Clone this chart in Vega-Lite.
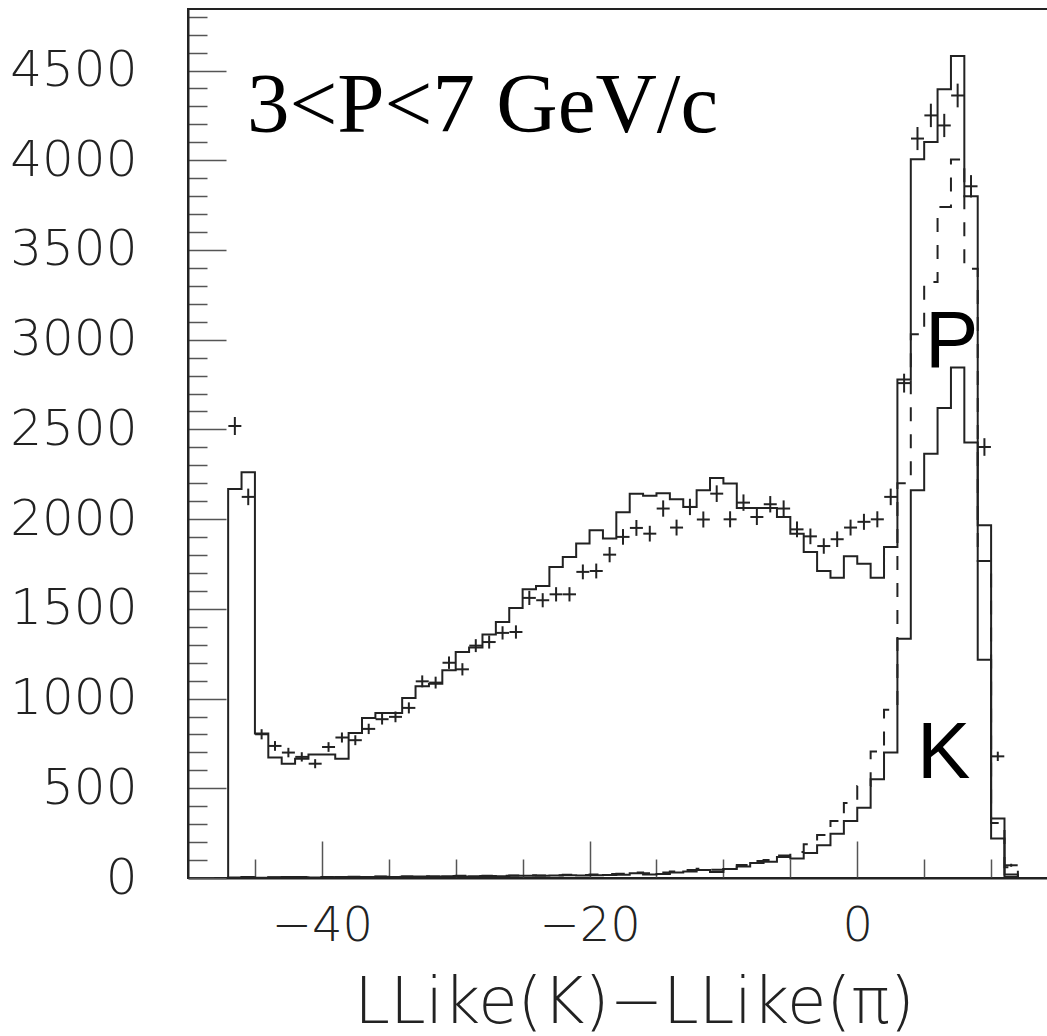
{
  "$schema": "https://vega.github.io/schema/vega-lite/v6.json",
  "width": 862,
  "height": 869,
  "autosize": {"type": "none"},
  "padding": {"left": 188, "top": 9, "right": 0, "bottom": 158},
  "background": "white",
  "config": {
    "view": {"stroke": "#222", "strokeWidth": 2},
    "axis": {
      "labelFont": "DejaVu Sans",
      "labelFontWeight": 200,
      "labelColor": "#222",
      "labelOverlap": false,
      "labelBound": false,
      "labelFlush": false,
      "tickColor": "#555",
      "tickWidth": 1.5,
      "domainColor": "#222",
      "domainWidth": 2,
      "grid": false,
      "titleFont": "DejaVu Sans",
      "titleFontWeight": 200,
      "titleColor": "#222"
    }
  },
  "datasets": {
    "hist": [
      {"s": "H1", "lo": -48, "n": 0}, {"s": "H1", "lo": -47, "n": 2168}, {"s": "H1", "lo": -46, "n": 2261}, {"s": "H1", "lo": -45, "n": 805},
      {"s": "H1", "lo": -44, "n": 671}, {"s": "H1", "lo": -43, "n": 637}, {"s": "H1", "lo": -42, "n": 665}, {"s": "H1", "lo": -41, "n": 688},
      {"s": "H1", "lo": -40, "n": 688}, {"s": "H1", "lo": -39, "n": 665}, {"s": "H1", "lo": -38, "n": 808}, {"s": "H1", "lo": -37, "n": 892},
      {"s": "H1", "lo": -36, "n": 920}, {"s": "H1", "lo": -35, "n": 920}, {"s": "H1", "lo": -34, "n": 1003}, {"s": "H1", "lo": -33, "n": 1068},
      {"s": "H1", "lo": -32, "n": 1083}, {"s": "H1", "lo": -31, "n": 1158}, {"s": "H1", "lo": -30, "n": 1260}, {"s": "H1", "lo": -29, "n": 1285},
      {"s": "H1", "lo": -28, "n": 1357}, {"s": "H1", "lo": -27, "n": 1427}, {"s": "H1", "lo": -26, "n": 1505}, {"s": "H1", "lo": -25, "n": 1609},
      {"s": "H1", "lo": -24, "n": 1627}, {"s": "H1", "lo": -23, "n": 1733}, {"s": "H1", "lo": -22, "n": 1789}, {"s": "H1", "lo": -21, "n": 1864},
      {"s": "H1", "lo": -20, "n": 1938}, {"s": "H1", "lo": -19, "n": 1892}, {"s": "H1", "lo": -18, "n": 2038}, {"s": "H1", "lo": -17, "n": 2142},
      {"s": "H1", "lo": -16, "n": 2131}, {"s": "H1", "lo": -15, "n": 2144}, {"s": "H1", "lo": -14, "n": 2111}, {"s": "H1", "lo": -13, "n": 2068},
      {"s": "H1", "lo": -12, "n": 2161}, {"s": "H1", "lo": -11, "n": 2229}, {"s": "H1", "lo": -10, "n": 2198}, {"s": "H1", "lo": -9, "n": 2062},
      {"s": "H1", "lo": -8, "n": 2062}, {"s": "H1", "lo": -7, "n": 2062}, {"s": "H1", "lo": -6, "n": 2012}, {"s": "H1", "lo": -5, "n": 1919},
      {"s": "H1", "lo": -4, "n": 1817}, {"s": "H1", "lo": -3, "n": 1711}, {"s": "H1", "lo": -2, "n": 1674}, {"s": "H1", "lo": -1, "n": 1793},
      {"s": "H1", "lo": 0, "n": 1752}, {"s": "H1", "lo": 1, "n": 1674}, {"s": "H1", "lo": 2, "n": 1845}, {"s": "H1", "lo": 3, "n": 2778},
      {"s": "H1", "lo": 4, "n": 4005}, {"s": "H1", "lo": 5, "n": 4102}, {"s": "H1", "lo": 6, "n": 4396}, {"s": "H1", "lo": 7, "n": 4581},
      {"s": "H1", "lo": 8, "n": 3799}, {"s": "H1", "lo": 9, "n": 1966}, {"s": "H1", "lo": 10, "n": 331}, {"s": "H1", "lo": 11, "n": 19},
      {"s": "H1", "lo": 12, "n": 0}, {"s": "H1", "lo": 14.4, "n": 0},

      {"s": "H2", "lo": -48, "n": 0}, {"s": "H2", "lo": -47, "n": 3}, {"s": "H2", "lo": -46, "n": 4}, {"s": "H2", "lo": -45, "n": 2},
      {"s": "H2", "lo": -44, "n": 3}, {"s": "H2", "lo": -43, "n": 5}, {"s": "H2", "lo": -42, "n": 4}, {"s": "H2", "lo": -41, "n": 3},
      {"s": "H2", "lo": -40, "n": 4}, {"s": "H2", "lo": -39, "n": 6}, {"s": "H2", "lo": -38, "n": 5}, {"s": "H2", "lo": -37, "n": 5},
      {"s": "H2", "lo": -36, "n": 7}, {"s": "H2", "lo": -35, "n": 6}, {"s": "H2", "lo": -34, "n": 8}, {"s": "H2", "lo": -33, "n": 9},
      {"s": "H2", "lo": -32, "n": 8}, {"s": "H2", "lo": -31, "n": 10}, {"s": "H2", "lo": -30, "n": 9}, {"s": "H2", "lo": -29, "n": 10},
      {"s": "H2", "lo": -28, "n": 11}, {"s": "H2", "lo": -27, "n": 10}, {"s": "H2", "lo": -26, "n": 12}, {"s": "H2", "lo": -25, "n": 13},
      {"s": "H2", "lo": -24, "n": 12}, {"s": "H2", "lo": -23, "n": 14}, {"s": "H2", "lo": -22, "n": 15}, {"s": "H2", "lo": -21, "n": 14},
      {"s": "H2", "lo": -20, "n": 16}, {"s": "H2", "lo": -19, "n": 17}, {"s": "H2", "lo": -18, "n": 18}, {"s": "H2", "lo": -17, "n": 26},
      {"s": "H2", "lo": -16, "n": 20}, {"s": "H2", "lo": -15, "n": 22}, {"s": "H2", "lo": -14, "n": 30}, {"s": "H2", "lo": -13, "n": 36},
      {"s": "H2", "lo": -12, "n": 44}, {"s": "H2", "lo": -11, "n": 34}, {"s": "H2", "lo": -10, "n": 50}, {"s": "H2", "lo": -9, "n": 64},
      {"s": "H2", "lo": -8, "n": 84}, {"s": "H2", "lo": -7, "n": 90}, {"s": "H2", "lo": -6, "n": 117}, {"s": "H2", "lo": -5, "n": 108},
      {"s": "H2", "lo": -4, "n": 139}, {"s": "H2", "lo": -3, "n": 182}, {"s": "H2", "lo": -2, "n": 247}, {"s": "H2", "lo": -1, "n": 318},
      {"s": "H2", "lo": 0, "n": 392}, {"s": "H2", "lo": 1, "n": 550}, {"s": "H2", "lo": 2, "n": 699}, {"s": "H2", "lo": 3, "n": 1334},
      {"s": "H2", "lo": 4, "n": 2161}, {"s": "H2", "lo": 5, "n": 2365}, {"s": "H2", "lo": 6, "n": 2620}, {"s": "H2", "lo": 7, "n": 2845},
      {"s": "H2", "lo": 8, "n": 2427}, {"s": "H2", "lo": 9, "n": 1217}, {"s": "H2", "lo": 10, "n": 220}, {"s": "H2", "lo": 11, "n": 6},
      {"s": "H2", "lo": 12, "n": 0}, {"s": "H2", "lo": 14.4, "n": 0},

      {"s": "H3", "lo": -48, "n": 0}, {"s": "H3", "lo": -47, "n": 5}, {"s": "H3", "lo": -46, "n": 6}, {"s": "H3", "lo": -45, "n": 3},
      {"s": "H3", "lo": -44, "n": 4}, {"s": "H3", "lo": -43, "n": 6}, {"s": "H3", "lo": -42, "n": 5}, {"s": "H3", "lo": -41, "n": 4},
      {"s": "H3", "lo": -40, "n": 6}, {"s": "H3", "lo": -39, "n": 5}, {"s": "H3", "lo": -38, "n": 7}, {"s": "H3", "lo": -37, "n": 6},
      {"s": "H3", "lo": -36, "n": 8}, {"s": "H3", "lo": -35, "n": 7}, {"s": "H3", "lo": -34, "n": 9}, {"s": "H3", "lo": -33, "n": 10},
      {"s": "H3", "lo": -32, "n": 9}, {"s": "H3", "lo": -31, "n": 11}, {"s": "H3", "lo": -30, "n": 12}, {"s": "H3", "lo": -29, "n": 11},
      {"s": "H3", "lo": -28, "n": 13}, {"s": "H3", "lo": -27, "n": 12}, {"s": "H3", "lo": -26, "n": 14}, {"s": "H3", "lo": -25, "n": 15},
      {"s": "H3", "lo": -24, "n": 14}, {"s": "H3", "lo": -23, "n": 16}, {"s": "H3", "lo": -22, "n": 18}, {"s": "H3", "lo": -21, "n": 17},
      {"s": "H3", "lo": -20, "n": 20}, {"s": "H3", "lo": -19, "n": 22}, {"s": "H3", "lo": -18, "n": 24}, {"s": "H3", "lo": -17, "n": 30},
      {"s": "H3", "lo": -16, "n": 26}, {"s": "H3", "lo": -15, "n": 30}, {"s": "H3", "lo": -14, "n": 36}, {"s": "H3", "lo": -13, "n": 45},
      {"s": "H3", "lo": -12, "n": 52}, {"s": "H3", "lo": -11, "n": 46}, {"s": "H3", "lo": -10, "n": 60}, {"s": "H3", "lo": -9, "n": 72},
      {"s": "H3", "lo": -8, "n": 95}, {"s": "H3", "lo": -7, "n": 100}, {"s": "H3", "lo": -6, "n": 125}, {"s": "H3", "lo": -5, "n": 145},
      {"s": "H3", "lo": -4, "n": 188}, {"s": "H3", "lo": -3, "n": 240}, {"s": "H3", "lo": -2, "n": 318}, {"s": "H3", "lo": -1, "n": 418},
      {"s": "H3", "lo": 0, "n": 513}, {"s": "H3", "lo": 1, "n": 705}, {"s": "H3", "lo": 2, "n": 938}, {"s": "H3", "lo": 3, "n": 2200},
      {"s": "H3", "lo": 4, "n": 3030}, {"s": "H3", "lo": 5, "n": 3322}, {"s": "H3", "lo": 6, "n": 3740}, {"s": "H3", "lo": 7, "n": 4004},
      {"s": "H3", "lo": 8, "n": 3396}, {"s": "H3", "lo": 9, "n": 1767}, {"s": "H3", "lo": 10, "n": 307}, {"s": "H3", "lo": 11, "n": 60},
      {"s": "H3", "lo": 12, "n": 0}, {"s": "H3", "lo": 14.4, "n": 0}
    ],
    "points": [
      {"x": -46.5, "n": 2519}, {"x": -45.5, "n": 2124}, {"x": -44.5, "n": 801}, {"x": -43.5, "n": 736},
      {"x": -42.5, "n": 699}, {"x": -41.5, "n": 675}, {"x": -40.5, "n": 637}, {"x": -39.5, "n": 730},
      {"x": -38.5, "n": 783}, {"x": -37.5, "n": 768}, {"x": -36.5, "n": 831}, {"x": -35.5, "n": 885},
      {"x": -34.5, "n": 898}, {"x": -33.5, "n": 948}, {"x": -32.5, "n": 1096}, {"x": -31.5, "n": 1089},
      {"x": -30.5, "n": 1200}, {"x": -29.5, "n": 1163}, {"x": -28.5, "n": 1295}, {"x": -27.5, "n": 1315},
      {"x": -26.5, "n": 1366}, {"x": -25.5, "n": 1371}, {"x": -24.5, "n": 1561}, {"x": -23.5, "n": 1548},
      {"x": -22.5, "n": 1581}, {"x": -21.5, "n": 1581}, {"x": -20.5, "n": 1706}, {"x": -19.5, "n": 1711},
      {"x": -18.5, "n": 1802}, {"x": -17.5, "n": 1901}, {"x": -16.5, "n": 1951}, {"x": -15.5, "n": 1919},
      {"x": -14.5, "n": 2059}, {"x": -13.5, "n": 1953}, {"x": -12.5, "n": 2068}, {"x": -11.5, "n": 1998},
      {"x": -10.5, "n": 2142}, {"x": -9.5, "n": 1999}, {"x": -8.5, "n": 2092}, {"x": -7.5, "n": 2012},
      {"x": -6.5, "n": 2083}, {"x": -5.5, "n": 2059}, {"x": -4.5, "n": 1943}, {"x": -3.5, "n": 1904},
      {"x": -2.5, "n": 1850}, {"x": -1.5, "n": 1888}, {"x": -0.5, "n": 1953}, {"x": 0.5, "n": 1985},
      {"x": 1.5, "n": 1999}, {"x": 2.5, "n": 2124}, {"x": 3.5, "n": 2758}, {"x": 4.5, "n": 4121},
      {"x": 5.5, "n": 4250}, {"x": 6.5, "n": 4194}, {"x": 7.5, "n": 4361}, {"x": 8.5, "n": 3855},
      {"x": 9.5, "n": 2402}, {"x": 10.5, "n": 678}, {"x": 11.5, "n": 71}
    ]
  },
  "layer": [
    {
      "data": {"name": "hist"},
      "transform": [{"filter": "datum.s === 'H3'"}],
      "mark": {"type": "line", "interpolate": "step-after", "color": "#222", "strokeWidth": 2, "strokeDash": [14, 13], "clip": true},
      "encoding": {
        "x": {"field": "lo", "type": "quantitative", "scale": {"domain": [-50, 14.4], "nice": false, "zero": false},
          "axis": {
            "orient": "bottom",
            "values": [-45, -40, -35, -30, -25, -20, -15, -10, -5, 0, 5, 10],
            "tickCount": 40,
            "tickSize": {"condition": {"test": "datum.value % 20 === 0", "value": -37}, "value": -19},
            "labelExpr": "datum.value % 20 === 0 ? replace(format(datum.value, 'd'), '-', '\u2212') : ''",
            "labelFontSize": 48,
            "labelPadding": 61,
            "title": "LLike(K)\u2212LLike(\u03c0)",
            "titleFontSize": 64,
            "titleX": 446,
            "titleY": 144,
            "titleAlign": "center",
            "titleBaseline": "alphabetic"
          }},
        "y": {"field": "n", "type": "quantitative", "scale": {"domain": [0, 4843], "nice": false},
          "axis": {
            "orient": "left",
            "values": [0,100,200,300,400,500,600,700,800,900,1000,1100,1200,1300,1400,1500,1600,1700,1800,1900,2000,2100,2200,2300,2400,2500,2600,2700,2800,2900,3000,3100,3200,3300,3400,3500,3600,3700,3800,3900,4000,4100,4200,4300,4400,4500,4600,4700,4800],
            "tickCount": 100,
            "tickSize": {"condition": {"test": "datum.value % 500 === 0", "value": -38}, "value": -19},
            "labelExpr": "datum.value % 500 === 0 ? format(datum.value, 'd') : ''",
            "labelFontSize": 50,
            "labelPadding": 89,
            "title": null
          }}
      }
    },
    {
      "data": {"name": "hist"},
      "transform": [{"filter": "datum.s === 'H2'"}],
      "mark": {"type": "line", "interpolate": "step-after", "color": "#222", "strokeWidth": 2, "clip": true},
      "encoding": {
        "x": {"field": "lo", "type": "quantitative"},
        "y": {"field": "n", "type": "quantitative"}
      }
    },
    {
      "data": {"name": "hist"},
      "transform": [{"filter": "datum.s === 'H1'"}],
      "mark": {"type": "line", "interpolate": "step-after", "color": "#222", "strokeWidth": 2, "clip": true},
      "encoding": {
        "x": {"field": "lo", "type": "quantitative"},
        "y": {"field": "n", "type": "quantitative"}
      }
    },
    {
      "data": {"name": "points"},
      "mark": {"type": "tick", "orient": "horizontal", "color": "#222", "thickness": 2, "size": 13, "opacity": 1},
      "encoding": {
        "x": {"field": "x", "type": "quantitative"},
        "y": {"field": "n", "type": "quantitative"}
      }
    },
    {
      "data": {"name": "points"},
      "mark": {"type": "tick", "orient": "vertical", "color": "#222", "thickness": 2, "opacity": 1},
      "encoding": {
        "x": {"field": "x", "type": "quantitative"},
        "y": {"field": "n", "type": "quantitative"},
        "size": {"field": "n", "type": "quantitative", "scale": {"type": "sqrt", "domain": [0, 4843], "range": [0, 25]}, "legend": null}
      }
    },
    {
      "data": {"values": [{}]},
      "mark": {"type": "text", "font": "Liberation Serif", "fontSize": 85, "align": "left", "baseline": "alphabetic", "color": "#000"},
      "encoding": {
        "x": {"datum": -45.6},
        "y": {"datum": 4156},
        "text": {"value": "3<P<7 GeV/c"}
      }
    },
    {
      "data": {"values": [{}]},
      "mark": {"type": "text", "font": "Liberation Sans", "fontSize": 80, "align": "center", "baseline": "alphabetic", "color": "#000"},
      "encoding": {
        "x": {"datum": 7.05},
        "y": {"datum": 2846},
        "text": {"value": "P"}
      }
    },
    {
      "data": {"values": [{}]},
      "mark": {"type": "text", "font": "Liberation Sans", "fontSize": 80, "align": "center", "baseline": "alphabetic", "color": "#000"},
      "encoding": {
        "x": {"datum": 6.45},
        "y": {"datum": 556},
        "text": {"value": "K"}
      }
    }
  ]
}
